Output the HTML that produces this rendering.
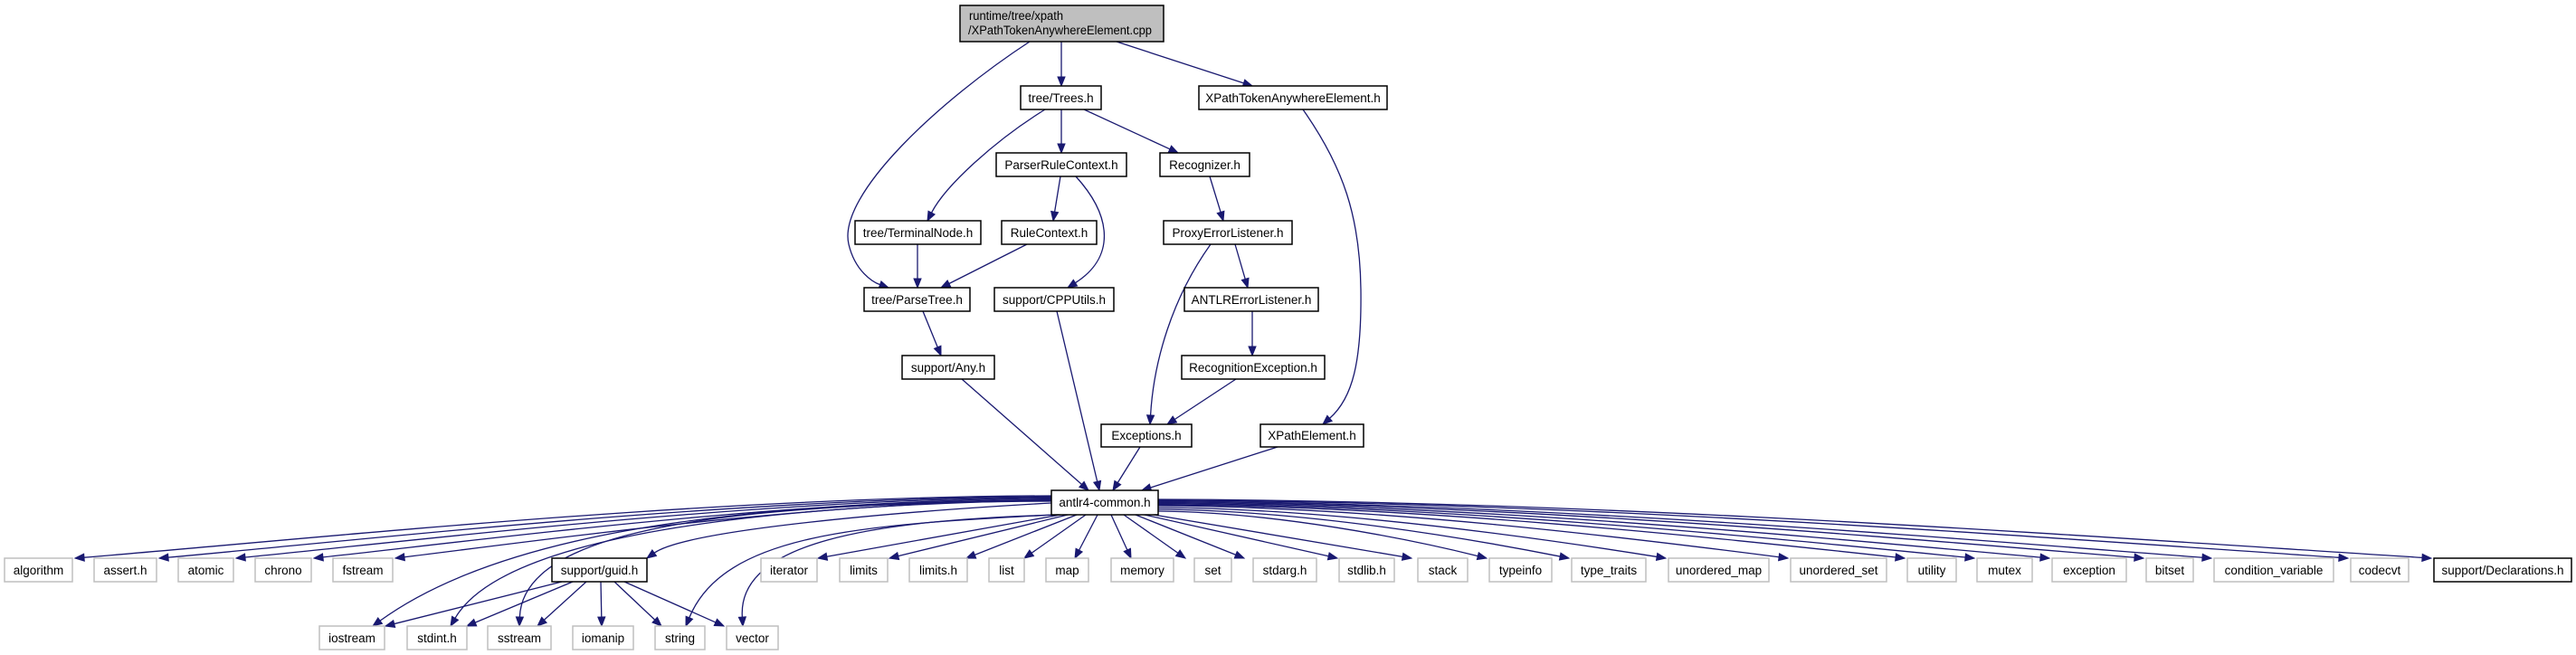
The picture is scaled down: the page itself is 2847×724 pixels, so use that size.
<!DOCTYPE html>
<html><head><meta charset="utf-8">
<style>
html,body{margin:0;padding:0;background:#fff;}
svg{display:block;}
text{font-family:"Liberation Sans",sans-serif;font-size:13.5px;fill:#000;}
</style></head>
<body>
<svg id="s" width="2847" height="724" viewBox="0 0 2847 724" xmlns="http://www.w3.org/2000/svg">
<g id="edges" fill="none" stroke="#191970" stroke-width="1.3"></g>
<g id="heads" fill="#191970" stroke="#191970" stroke-width="1"></g>
<g id="nodes">
<rect x="1061" y="6" width="225" height="40" fill="#bfbfbf" stroke="#000" stroke-width="1.5"/>
<text x="1071" y="22" textLength="104" lengthAdjust="spacingAndGlyphs">runtime/tree/xpath</text>
<text x="1070" y="38" textLength="203" lengthAdjust="spacingAndGlyphs">/XPathTokenAnywhereElement.cpp</text>

<rect x="1128" y="95" width="89" height="26" fill="#fff" stroke="#000" stroke-width="1.5"/><text x="1172.5" y="113" text-anchor="middle">tree/Trees.h</text>
<rect x="1325" y="95" width="208" height="26" fill="#fff" stroke="#000" stroke-width="1.5"/><text x="1429" y="113" text-anchor="middle">XPathTokenAnywhereElement.h</text>
<rect x="1101" y="169" width="144" height="26" fill="#fff" stroke="#000" stroke-width="1.5"/><text x="1173" y="187" text-anchor="middle">ParserRuleContext.h</text>
<rect x="1282" y="169" width="99" height="26" fill="#fff" stroke="#000" stroke-width="1.5"/><text x="1331.5" y="187" text-anchor="middle">Recognizer.h</text>
<rect x="945" y="244" width="139" height="26" fill="#fff" stroke="#000" stroke-width="1.5"/><text x="1014.5" y="262" text-anchor="middle">tree/TerminalNode.h</text>
<rect x="1107" y="244" width="105" height="26" fill="#fff" stroke="#000" stroke-width="1.5"/><text x="1159.5" y="262" text-anchor="middle">RuleContext.h</text>
<rect x="1286" y="244" width="142" height="26" fill="#fff" stroke="#000" stroke-width="1.5"/><text x="1357" y="262" text-anchor="middle">ProxyErrorListener.h</text>
<rect x="955" y="318" width="117" height="26" fill="#fff" stroke="#000" stroke-width="1.5"/><text x="1013.5" y="336" text-anchor="middle">tree/ParseTree.h</text>
<rect x="1099" y="318" width="132" height="26" fill="#fff" stroke="#000" stroke-width="1.5"/><text x="1165" y="336" text-anchor="middle">support/CPPUtils.h</text>
<rect x="1309" y="318" width="148" height="26" fill="#fff" stroke="#000" stroke-width="1.5"/><text x="1383" y="336" text-anchor="middle">ANTLRErrorListener.h</text>
<rect x="997" y="393" width="102" height="26" fill="#fff" stroke="#000" stroke-width="1.5"/><text x="1048" y="411" text-anchor="middle">support/Any.h</text>
<rect x="1306" y="393" width="158" height="26" fill="#fff" stroke="#000" stroke-width="1.5"/><text x="1385" y="411" text-anchor="middle">RecognitionException.h</text>
<rect x="1217" y="469" width="100" height="25" fill="#fff" stroke="#000" stroke-width="1.5"/><text x="1267" y="486" text-anchor="middle">Exceptions.h</text>
<rect x="1393" y="469" width="114" height="25" fill="#fff" stroke="#000" stroke-width="1.5"/><text x="1450" y="486" text-anchor="middle">XPathElement.h</text>
<rect x="1162" y="542" width="118" height="27" fill="#fff" stroke="#000" stroke-width="1.5"/><text x="1221" y="560" text-anchor="middle">antlr4-common.h</text>

<g fill="#fff" stroke="#bfbfbf" stroke-width="1.5">
<rect x="5" y="617" width="75" height="26"/>
<rect x="104" y="617" width="69" height="26"/>
<rect x="197" y="617" width="61" height="26"/>
<rect x="282" y="617" width="62" height="26"/>
<rect x="368" y="617" width="66" height="26"/>
<rect x="841" y="617" width="62" height="26"/>
<rect x="928" y="617" width="53" height="26"/>
<rect x="1005" y="617" width="64" height="26"/>
<rect x="1093" y="617" width="39" height="26"/>
<rect x="1156" y="617" width="47" height="26"/>
<rect x="1228" y="617" width="69" height="26"/>
<rect x="1320" y="617" width="41" height="26"/>
<rect x="1385" y="617" width="70" height="26"/>
<rect x="1480" y="617" width="61" height="26"/>
<rect x="1567" y="617" width="55" height="26"/>
<rect x="1646" y="617" width="69" height="26"/>
<rect x="1737" y="617" width="82" height="26"/>
<rect x="1844" y="617" width="111" height="26"/>
<rect x="1979" y="617" width="106" height="26"/>
<rect x="2108" y="617" width="54" height="26"/>
<rect x="2185" y="617" width="61" height="26"/>
<rect x="2268" y="617" width="82" height="26"/>
<rect x="2372" y="617" width="52" height="26"/>
<rect x="2447" y="617" width="132" height="26"/>
<rect x="2598" y="617" width="64" height="26"/>
<rect x="353" y="692" width="72" height="26"/>
<rect x="450" y="692" width="66" height="26"/>
<rect x="539" y="692" width="70" height="26"/>
<rect x="633" y="692" width="67" height="26"/>
<rect x="724" y="692" width="55" height="26"/>
<rect x="803" y="692" width="57" height="26"/>
</g>
<rect x="610" y="617" width="105" height="26" fill="#fff" stroke="#000" stroke-width="1.5"/>
<rect x="2690" y="617" width="152" height="26" fill="#fff" stroke="#000" stroke-width="1.5"/>
<g text-anchor="middle">
<text x="42.5" y="635">algorithm</text>
<text x="138.5" y="635">assert.h</text>
<text x="227.5" y="635">atomic</text>
<text x="313" y="635">chrono</text>
<text x="401" y="635">fstream</text>
<text x="662.5" y="635">support/guid.h</text>
<text x="872" y="635">iterator</text>
<text x="954.5" y="635">limits</text>
<text x="1037" y="635">limits.h</text>
<text x="1112.5" y="635">list</text>
<text x="1179.5" y="635">map</text>
<text x="1262.5" y="635">memory</text>
<text x="1340.5" y="635">set</text>
<text x="1420" y="635">stdarg.h</text>
<text x="1510.5" y="635">stdlib.h</text>
<text x="1594.5" y="635">stack</text>
<text x="1680.5" y="635">typeinfo</text>
<text x="1778" y="635">type_traits</text>
<text x="1899.5" y="635">unordered_map</text>
<text x="2032" y="635">unordered_set</text>
<text x="2135" y="635">utility</text>
<text x="2215.5" y="635">mutex</text>
<text x="2309" y="635">exception</text>
<text x="2398" y="635">bitset</text>
<text x="2513" y="635">condition_variable</text>
<text x="2630" y="635">codecvt</text>
<text x="2766" y="635">support/Declarations.h</text>
<text x="389" y="710">iostream</text>
<text x="483" y="710">stdint.h</text>
<text x="574" y="710">sstream</text>
<text x="666.5" y="710">iomanip</text>
<text x="751.5" y="710">string</text>
<text x="831.5" y="710">vector</text>
</g>
</g>
</svg>
<script>
(function(){
var NS="http://www.w3.org/2000/svg";
var eg=document.getElementById("edges"), hg=document.getElementById("heads");
function head(tx,ty,fx,fy){
  var dx=tx-fx, dy=ty-fy, L=Math.sqrt(dx*dx+dy*dy)||1; dx/=L; dy/=L;
  var bx=tx-dx*10, by=ty-dy*10, px=-dy*4, py=dx*4;
  var p=document.createElementNS(NS,"polygon");
  p.setAttribute("points",tx+","+ty+" "+(bx+px)+","+(by+py)+" "+(bx-px)+","+(by-py));
  hg.appendChild(p);
  return [bx,by];
}
function edge(a){
  var path=document.createElementNS(NS,"path"), d;
  if(a.length==4){
    var b=head(a[2],a[3],a[0],a[1]);
    d="M"+a[0]+","+a[1]+" L"+b[0]+","+b[1];
  } else {
    var n=a.length, ex=a[n-2], ey=a[n-1], cx=a[n-4], cy=a[n-3];
    var b=head(ex,ey,cx,cy);
    d="M"+a[0]+","+a[1];
    for(var i=2;i<n;i+=6){
      var last=(i+6>=n);
      d+=" C"+a[i]+","+a[i+1]+" "+a[i+2]+","+a[i+3]+" "+(last?b[0]:a[i+4])+","+(last?b[1]:a[i+5]);
    }
  }
  path.setAttribute("d",d); eg.appendChild(path);
}
edge([1173,46,1173,95]);
edge([1234,46,1384,95]);
edge([1138,46, 1040,110, 925,215, 938,270, 945,300, 965,312, 982,318]);
edge([1155,121, 1100,155, 1045,205, 1025,244]);
edge([1173,121,1173,169]);
edge([1198,121,1302,169]);
edge([1440,121, 1485,185, 1503,240, 1504,320, 1505,400, 1495,440, 1462,469]);
edge([1172,195,1164,244]);
edge([1189,195, 1230,240, 1232,285, 1180,318]);
edge([1337,195,1352,244]);
edge([1014,270,1014,318]);
edge([1135,270,1040,318]);
edge([1338,270, 1295,330, 1275,400, 1271,469]);
edge([1365,270,1379,318]);
edge([1384,344,1384,393]);
edge([1020,344,1040,393]);
edge([1168,344,1215,542]);
edge([1063,419,1203,542]);
edge([1366,419,1290,469]);
edge([1260,494,1230,542]);
edge([1412,494,1262,542]);
var left=[[80,548],[173,549],[258,550],[344,551],[434,553]];
left.forEach(function(t){
  var sx=1162, sy=t[1], ex=t[0], ey=617, w=sx-ex;
  edge([sx,sy, sx-w*0.35,sy+1, ex+w*0.25,ey-22, ex+3,ey]);
});
edge([1162,556, 1000,565, 760,585, 715,617]);
edge([1162,552, 900,556, 580,570, 412,692]);
edge([1162,553, 880,558, 560,585, 498,692]);
edge([1162,554, 800,556, 578,585, 574,692]);
edge([1166,569, 950,580, 800,590, 758,692]);
edge([1170,569, 960,575, 815,600, 821,692]);
var near=[[1172,904],[1180,983],[1190,1068],[1200,1132],[1213,1188],[1228,1250],[1242,1310],[1255,1375],[1265,1478],[1275,1560]];
near.forEach(function(t){ edge([t[0],569,t[1],617]); });
var right=[[1646,565],[1737,563],[1844,561],[1979,559],[2108,558],[2185,557],[2268,556],[2372,555],[2447,554],[2598,553],[2690,552]];
right.forEach(function(t){
  var sx=1280, sy=t[1], ex=t[0], ey=617, w=ex-sx;
  edge([sx,sy, sx+w*0.35,sy+1, ex-w*0.25,ey-22, ex-3,ey]);
});
edge([621,643,426,692]);
edge([633,643,516,692]);
edge([648,643,594,692]);
edge([664,643,665,692]);
edge([679,643,731,692]);
edge([690,643,800,692]);
})();
</script>
</body></html>
